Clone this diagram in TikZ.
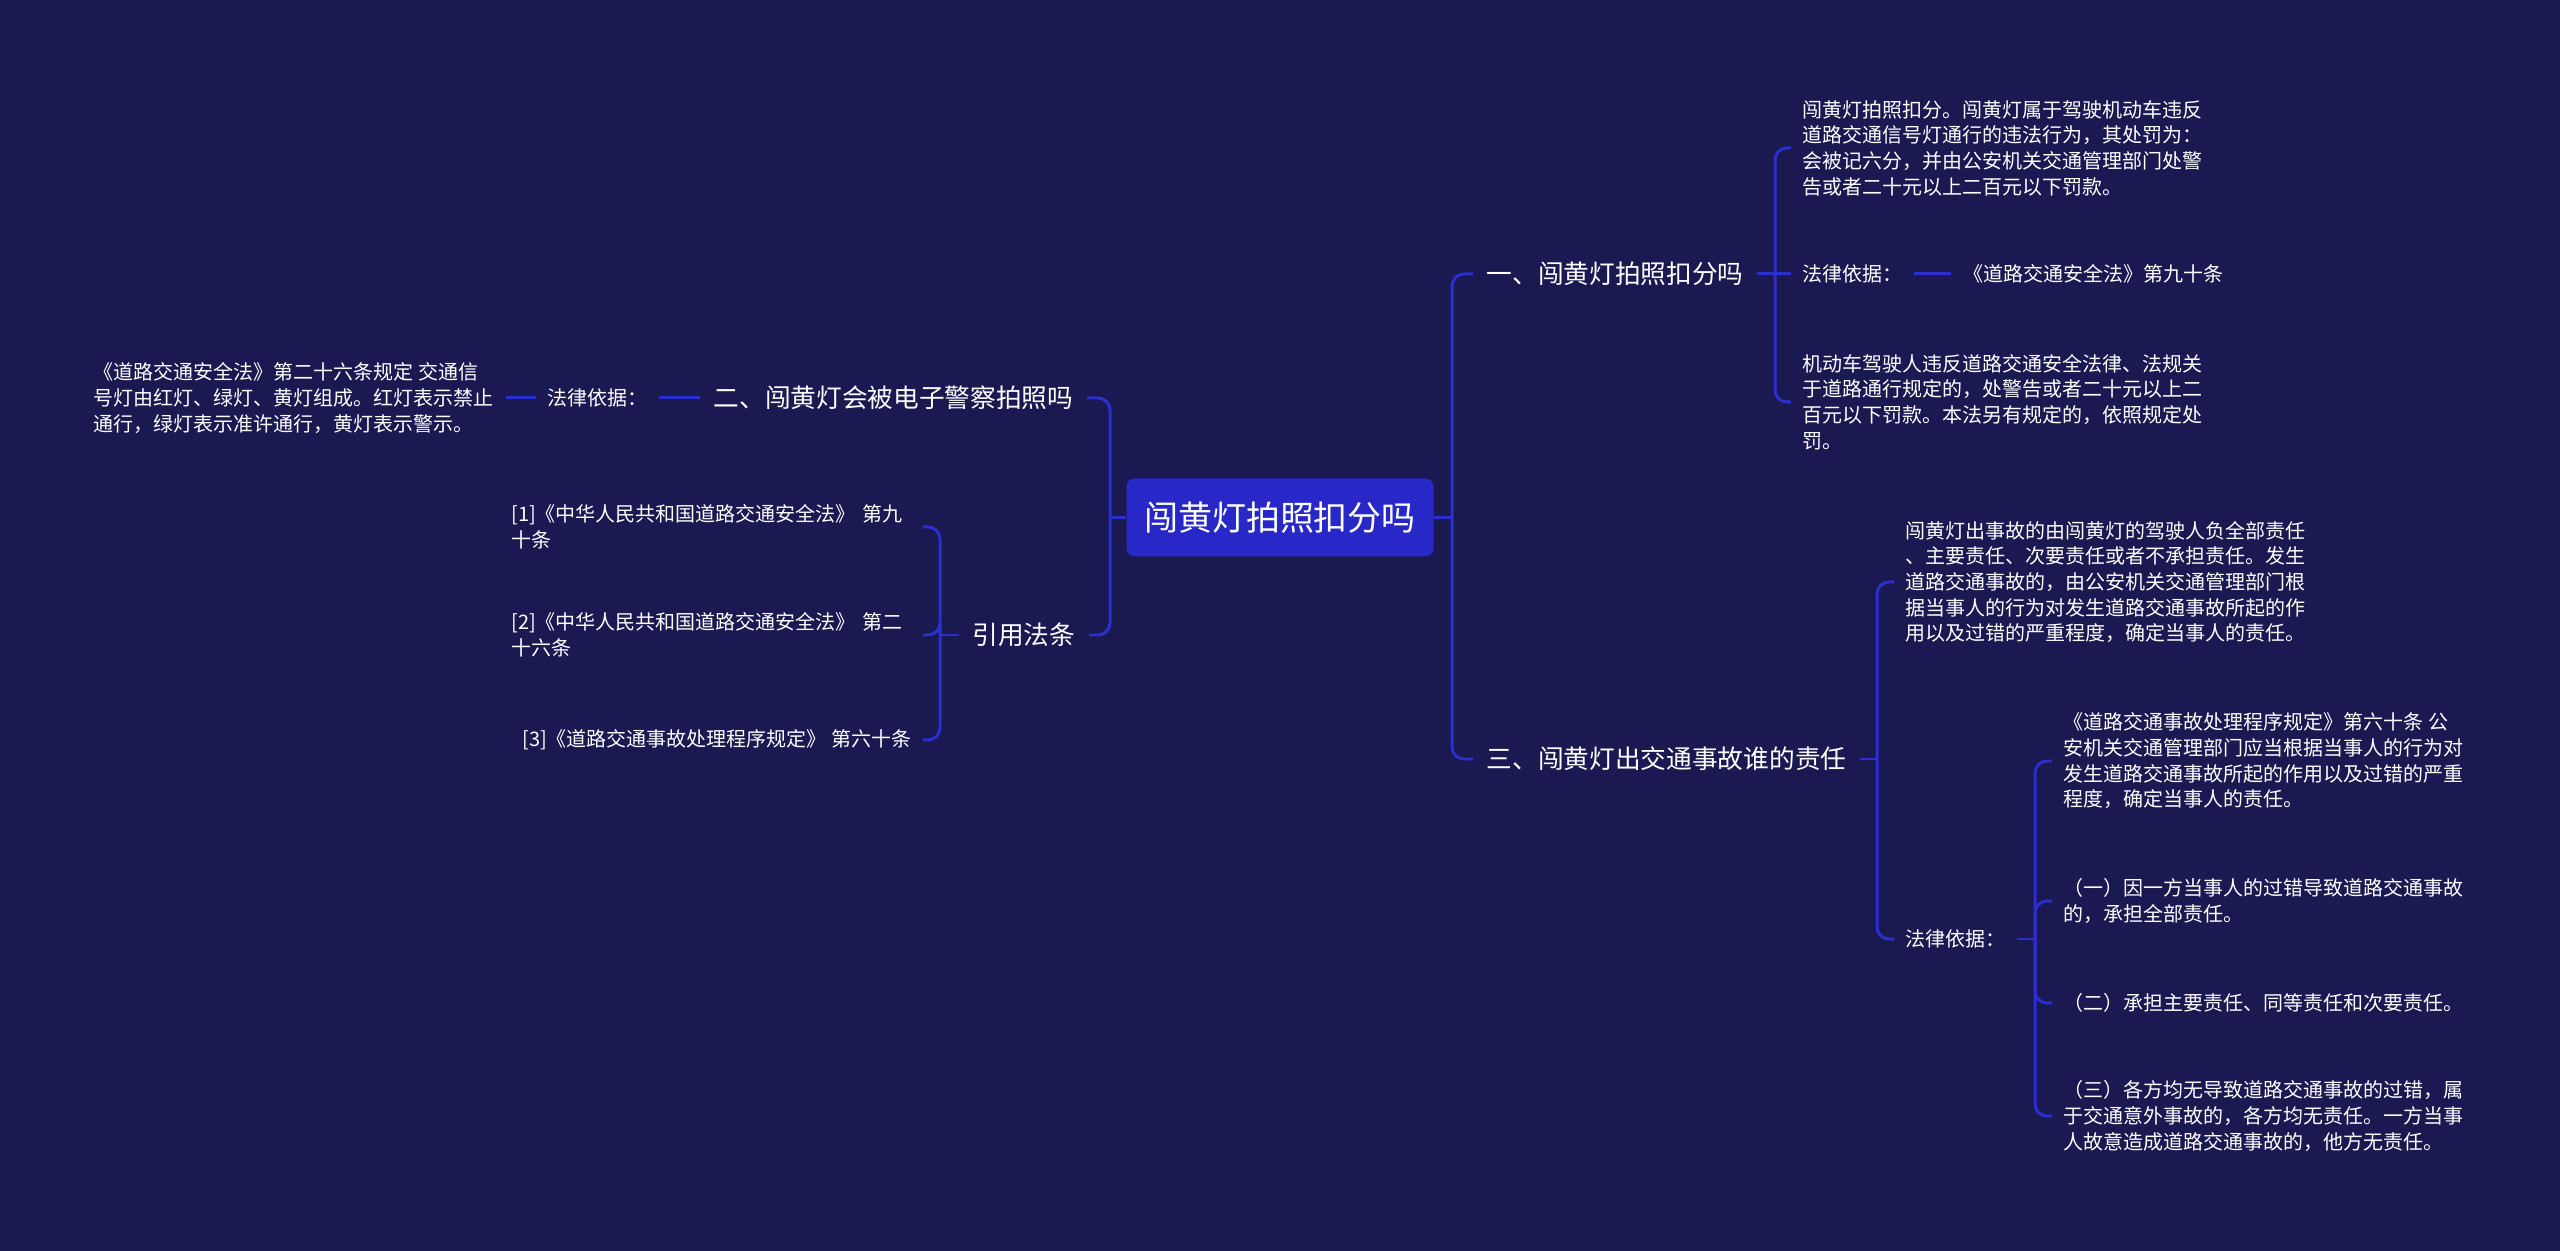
\documentclass[tikz,border=0pt]{standalone}
\usepackage{fontspec}
\newfontfamily\cjk{Noto Sans CJK SC}
\usetikzlibrary{positioning,calc}
\definecolor{bgnavy}{RGB}{26,25,81}
\definecolor{linkblue}{RGB}{43,47,206}
\definecolor{rootblue}{RGB}{40,40,200}

\begin{document}
\begin{tikzpicture}[
    font=\cjk,
    text=white,
    link/.style={draw=linkblue, line width=0.85pt, rounded corners=0.12cm},
    rootbox/.style={fill=rootblue, rounded corners=0.08cm, minimum width=3.07cm, minimum height=0.78cm, font=\cjk\fontsize{9.67}{11.6}\selectfont},
    topic/.style={inner xsep=0.13cm, inner ysep=0pt, font=\cjk\fontsize{7.31}{8.8}\selectfont},
    leaf/.style={inner xsep=0.11cm, inner ysep=0pt, align=left, font=\cjk\fontsize{5.69}{7.31}\selectfont}
]
\fill[bgnavy] (0,0) rectangle (25.6,-12.51);

% 中心主题
\node[rootbox] (root) at (12.80,-5.175) {闯黄灯拍照扣分吗};

% 右侧一级主题
\coordinate (rtrunk) at (14.52,-5.175);
\node[topic, anchor=west] (b1) at (14.73,-2.74) {一、闯黄灯拍照扣分吗};
\node[topic, anchor=west] (b3) at (14.73,-7.59) {三、闯黄灯出交通事故谁的责任};
\draw[link] (root.east) -- (rtrunk);
\draw[link] (rtrunk) |- (b1.west);
\draw[link] (rtrunk) |- (b3.west);

% 一、闯黄灯拍照扣分吗
\coordinate (t1) at (17.75,-2.74);
\node[leaf, anchor=west] (a1) at (17.91,-1.48) {闯黄灯拍照扣分。闯黄灯属于驾驶机动车违反\\
道路交通信号灯通行的违法行为，其处罚为：\\
会被记六分，并由公安机关交通管理部门处警\\
告或者二十元以上二百元以下罚款。};
\node[leaf, anchor=west] (a2) at (17.91,-2.74) {法律依据：};
\node[leaf, right=0.37cm of a2] (a2x) {《道路交通安全法》第九十条};
\node[leaf, anchor=west] (a3) at (17.91,-4.02) {机动车驾驶人违反道路交通安全法律、法规关\\
于道路通行规定的，处警告或者二十元以上二\\
百元以下罚款。本法另有规定的，依照规定处\\
罚。};
\draw[link] (b1.east) -- (t1);
\draw[link] (t1) |- (a1.west);
\draw[link] (t1) -- (a2.west);
\draw[link] (t1) |- (a3.west);
\draw[link] (a2.east) -- (a2x.west);

% 三、闯黄灯出交通事故谁的责任
\coordinate (t3) at (18.77,-7.59);
\node[leaf, anchor=west] (c1) at (18.94,-5.82) {闯黄灯出事故的由闯黄灯的驾驶人负全部责任\\
、主要责任、次要责任或者不承担责任。发生\\
道路交通事故的，由公安机关交通管理部门根\\
据当事人的行为对发生道路交通事故所起的作\\
用以及过错的严重程度，确定当事人的责任。};
\node[leaf, anchor=west] (c2) at (18.94,-9.39) {法律依据：};
\draw[link] (b3.east) -- (t3);
\draw[link] (t3) |- (c1.west);
\draw[link] (t3) |- (c2.west);

% 法律依据下的条文
\coordinate (t3b) at (20.35,-9.39);
\node[leaf, anchor=west] (d1) at (20.52,-7.61) {《道路交通事故处理程序规定》第六十条 公\\
安机关交通管理部门应当根据当事人的行为对\\
发生道路交通事故所起的作用以及过错的严重\\
程度，确定当事人的责任。};
\node[leaf, anchor=west] (d2) at (20.52,-9.01) {（一）因一方当事人的过错导致道路交通事故\\
的，承担全部责任。};
\node[leaf, anchor=west] (d3) at (20.52,-10.03) {（二）承担主要责任、同等责任和次要责任。};
\node[leaf, anchor=west] (d4) at (20.52,-11.16) {（三）各方均无导致道路交通事故的过错，属\\
于交通意外事故的，各方均无责任。一方当事\\
人故意造成道路交通事故的，他方无责任。};
\draw[link] (c2.east) -- (t3b);
\foreach \d in {d1,d2,d3,d4}
  \draw[link] (t3b) |- (\d.west);

% 左侧一级主题
\coordinate (ltrunk) at (11.10,-5.175);
\node[topic, anchor=east] (e1) at (10.87,-3.98) {二、闯黄灯会被电子警察拍照吗};
\node[topic, anchor=east] (e2) at (10.89,-6.35) {引用法条};
\draw[link] (root.west) -- (ltrunk);
\draw[link] (ltrunk) |- (e1.east);
\draw[link] (ltrunk) |- (e2.east);

% 二、闯黄灯会被电子警察拍照吗
\node[leaf, left=0.41cm of e1] (f1) {法律依据：};
\node[leaf, left=0.30cm of f1] (g1) {《道路交通安全法》第二十六条规定 交通信\\
号灯由红灯、绿灯、黄灯组成。红灯表示禁止\\
通行，绿灯表示准许通行，黄灯表示警示。};
\draw[link] (e1.west) -- (f1.east);
\draw[link] (f1.west) -- (g1.east);

% 引用法条
\coordinate (t2) at (9.40,-6.35);
\node[leaf, anchor=east, text width=4.0cm] (h1) at (9.23,-5.27) {[1]《中华人民共和国道路交通安全法》 第九\\
十条};
\node[leaf, anchor=east, text width=4.0cm] (h2) at (9.23,-6.35) {[2]《中华人民共和国道路交通安全法》 第二\\
十六条};
\node[leaf, anchor=east] (h3) at (9.23,-7.40) {[3]《道路交通事故处理程序规定》 第六十条};
\draw[link] (e2.west) -- (t2);
\foreach \h in {h1,h2,h3}
  \draw[link] (t2) |- (\h.east);

\end{tikzpicture}
\end{document}
